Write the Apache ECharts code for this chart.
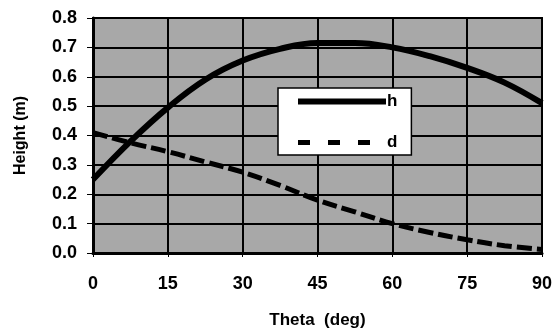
<!DOCTYPE html>
<html>
<head>
<meta charset="UTF-8">
<title>Height vs Theta</title>
<script src="https://cdn.jsdelivr.net/npm/echarts@6/dist/echarts.min.js"></script>
<style>
    html, body { margin: 0; padding: 0; background: #fff; }
    #chart { width: 555px; height: 334px; }
</style>
</head>
<body>
<div id="chart"></div>
<script>
// theta (deg) and the two curves
var theta = [0, 7.5, 15, 22.5, 30, 37.5, 45, 52.5, 60, 67.5, 75, 82.5, 90];
var hVals = [0.25, 0.38, 0.495, 0.59, 0.655, 0.695, 0.715, 0.715, 0.70, 0.67, 0.63, 0.58, 0.51];
var dVals = [0.41, 0.375, 0.345, 0.31, 0.275, 0.23, 0.18, 0.14, 0.10, 0.07, 0.045, 0.025, 0.012];
var xTicks = [0, 15, 30, 45, 60, 75, 90];

var font = 'Liberation Sans, Arial, sans-serif';
var chart = echarts.init(document.getElementById('chart'));

function pairs(vals) {
    return theta.map(function (t, i) { return [t, vals[i]]; });
}

chart.setOption({
    animation: false,
    grid: {
        left: 93, right: 10, top: 18, bottom: 81,
        show: true,
        backgroundColor: '#a8a8a8',
        borderColor: '#000',
        borderWidth: 2
    },
    legend: {
        orient: 'vertical',
        left: 278, top: 88,
        backgroundColor: '#fff',
        borderColor: '#000',
        borderWidth: 1.5,
        borderRadius: 0,
        padding: [5, 14, 4, 17],
        itemWidth: 88,
        itemHeight: 14,
        itemGap: 24,
        itemStyle: { color: 'rgba(0,0,0,0)', borderColor: 'rgba(0,0,0,0)', borderWidth: 0 },
        textStyle: { fontFamily: font, fontWeight: 'bold', fontSize: 17, color: '#000', padding: [0, 0, 0, -4] },
        data: [
            { name: 'h', lineStyle: { width: 6, type: 'solid', color: '#000' } },
            { name: 'd', lineStyle: { width: 5, type: [12, 18], color: '#000' } }
        ]
    },
    xAxis: {
        type: 'value',
        min: 0, max: 90, interval: 15,
        name: 'Theta  (deg)',
        nameLocation: 'middle',
        nameGap: 59,
        nameTextStyle: { fontFamily: font, fontWeight: 'bold', fontSize: 17, color: '#000' },
        axisLine: { show: true, lineStyle: { color: '#000', width: 3 } },
        axisTick: { show: true, length: 4, lineStyle: { color: '#000', width: 1 } },
        axisLabel: {
            margin: 22, fontFamily: font, fontWeight: 'bold', fontSize: 18, color: '#000',
            formatter: function (v) { return xTicks.indexOf(v) >= 0 ? String(v) : ''; }
        },
        splitLine: { show: true, lineStyle: { color: '#000', width: 2 } }
    },
    yAxis: {
        type: 'value',
        min: 0, max: 0.8, interval: 0.1,
        name: 'Height (m)',
        nameLocation: 'middle',
        nameGap: 64,
        nameTextStyle: { fontFamily: font, fontWeight: 'bold', fontSize: 16, color: '#000' },
        axisLine: { show: true, lineStyle: { color: '#000', width: 3 } },
        axisTick: { show: true, length: 6, lineStyle: { color: '#000', width: 1 } },
        axisLabel: {
            margin: 16, fontFamily: font, fontWeight: 'bold', fontSize: 18, color: '#000',
            formatter: function (v) { return v.toFixed(1); }
        },
        splitLine: { show: true, lineStyle: { color: '#000', width: 2 } }
    },
    series: [
        {
            name: 'h',
            type: 'line',
            smooth: 0.4,
            symbol: 'none',
            data: pairs(hVals),
            lineStyle: { color: '#000', width: 6 },
            itemStyle: { color: '#000' }
        },
        {
            name: 'd',
            type: 'line',
            smooth: 0.4,
            symbol: 'none',
            data: pairs(dVals),
            lineStyle: { color: '#000', width: 5, type: [15, 5] },
            itemStyle: { color: '#000' }
        }
    ]
});
</script>
</body>
</html>
